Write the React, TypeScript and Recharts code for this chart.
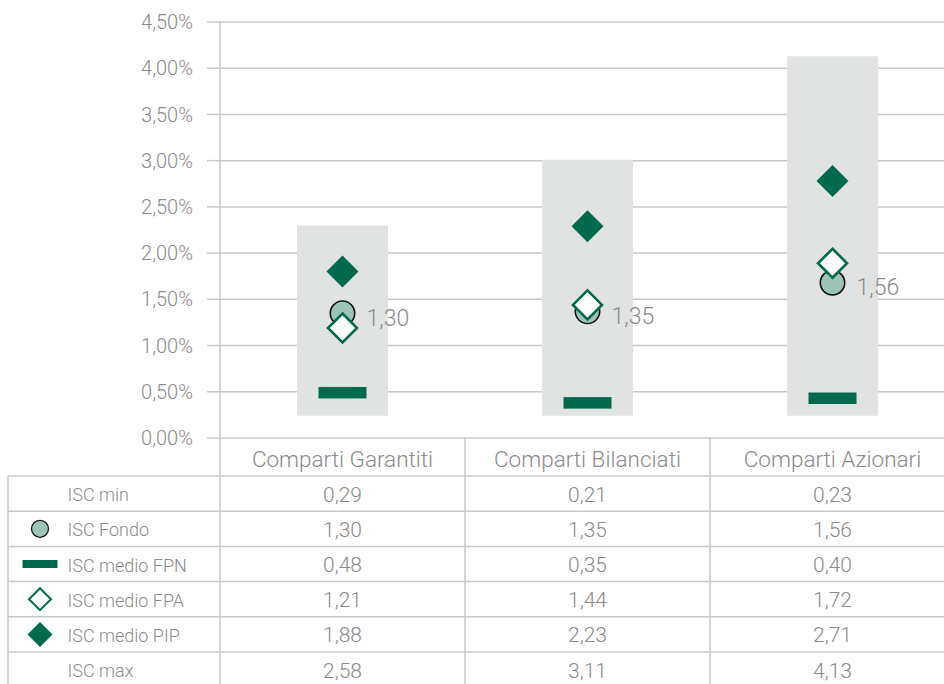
import React from 'react';
import { ComposedChart, Bar, Line, XAxis, YAxis, CartesianGrid } from 'recharts';

const categories = ['Comparti Garantiti', 'Comparti Bilanciati', 'Comparti Azionari'];
const yTicks = [0, 0.5, 1, 1.5, 2, 2.5, 3, 3.5, 4, 4.5];

// values as plotted in the chart area
const rangeMin = [0.24, 0.24, 0.24];
const rangeMax = [2.30, 3.01, 4.13];
const fondo = [1.35, 1.37, 1.68];
const medioFPN = [0.49, 0.38, 0.43];
const medioFPA = [1.19, 1.44, 1.89];
const medioPIP = [1.80, 2.29, 2.78];

// values printed in the table
const rowLabels = ['ISC min', 'ISC Fondo', 'ISC medio FPN', 'ISC medio FPA', 'ISC medio PIP', 'ISC max'];
const tabMin = [0.29, 0.21, 0.23];
const tabFondo = [1.30, 1.35, 1.56];
const tabFPN = [0.48, 0.35, 0.40];
const tabFPA = [1.21, 1.44, 1.72];
const tabPIP = [1.88, 2.23, 2.71];
const tabMax = [2.58, 3.11, 4.13];

const GREEN = '#006a4d';
const CIRCLE = '#9cc5b7';
const BOX = '#e1e3e2';
const LINE = '#c8c8c8';
const TEXT = '#8a8a8a';
const FONT = 'Roboto, "Open Sans", sans-serif';

const fmt = (v: number) => v.toFixed(2).replace('.', ',');

const data = categories.map((c, i) => ({
  name: c,
  box: [rangeMin[i], rangeMax[i]],
  fondo: fondo[i],
  fpn: medioFPN[i],
  fpa: medioFPA[i],
  pip: medioPIP[i],
}));

const tableCols = [tabMin, tabFondo, tabFPN, tabFPA, tabPIP, tabMax];

const diamond = (cx: number, cy: number, h: number) =>
  `M${cx},${cy - h} L${cx + h},${cy} L${cx},${cy + h} L${cx - h},${cy} Z`;

const LegendIcon = ({ row, cx, cy }: { row: number; cx: number; cy: number }) => {
  if (row === 1) return <circle cx={cx} cy={cy} r={8.5} fill={CIRCLE} stroke="#111" strokeWidth={1.3} />;
  if (row === 2) return <rect x={cx - 17.5} y={cy - 4} width={35} height={8} fill={GREEN} />;
  if (row === 3) return <path d={diamond(cx, cy, 11)} fill="#fff" stroke={GREEN} strokeWidth={2} />;
  if (row === 4) return <path d={diamond(cx, cy, 12.5)} fill={GREEN} />;
  return null;
};

const CategoryTick = (props: any) => {
  const { x, y, payload } = props;
  const i = props.index ?? payload.index ?? 0;
  const hb = payload && payload.offset ? payload.offset : 122.5;
  const left = x - hb;
  const right = x + hb;
  const isLast = i === categories.length - 1;
  const headerH = 38;
  const rowH = 35.2;
  const bottom = y + headerH + rowH * 6 + 20;
  const tableLeft = left - 212;
  const els: any[] = [];
  els.push(
    <text key="h" x={x} y={y + headerH / 2 + 2} textAnchor="middle" dominantBaseline="central"
      fill={TEXT} fontSize={22.5} fontFamily={FONT} fontWeight={300}>{categories[i]}</text>
  );
  els.push(<line key="vl" x1={left} x2={left} y1={y - 1} y2={bottom} stroke={LINE} strokeWidth={1.5} />);
  if (isLast) {
    els.push(<line key="vr" x1={right} x2={right} y1={y} y2={bottom} stroke={LINE} strokeWidth={1.5} />);
  }
  for (let r = 0; r < 6; r++) {
    const top = y + headerH + r * rowH;
    els.push(<line key={'hl' + r} x1={left} x2={isLast ? right + 30 : right} y1={top} y2={top} stroke={LINE} strokeWidth={1.5} />);
    els.push(
      <text key={'v' + r} x={x} y={top + rowH / 2 + 1} textAnchor="middle" dominantBaseline="central"
        fill={TEXT} fontSize={21} fontFamily={FONT} fontWeight={300}>{fmt(tableCols[r][i])}</text>
    );
    if (i === 0) {
      els.push(<line key={'lhl' + r} x1={tableLeft} x2={left} y1={top} y2={top} stroke={LINE} strokeWidth={1.5} />);
      els.push(
        <text key={'l' + r} x={tableLeft + 59.5} y={top + rowH / 2 + 1} textAnchor="start" dominantBaseline="central"
          fill={TEXT} fontSize={18} fontFamily={FONT} fontWeight={300}>{rowLabels[r]}</text>
      );
      els.push(<LegendIcon key={'ic' + r} row={r} cx={tableLeft + 32} cy={top + rowH / 2} />);
    }
  }
  if (i === 0) {
    els.push(<line key="tl" x1={tableLeft} x2={tableLeft} y1={y + headerH} y2={bottom} stroke={LINE} strokeWidth={1.5} />);
  }
  return <g>{els}</g>;
};

const FondoDot = (props: any) => {
  const { cx, cy, index } = props;
  if (cx == null || cy == null) return <g key={'fd' + index} />;
  return (
    <g key={'fd' + index}>
      <circle cx={cx} cy={cy} r={12.2} fill={CIRCLE} stroke="#111" strokeWidth={1.6} />
      <text x={cx + 24} y={cy + 5} dominantBaseline="central" fill={TEXT} fontSize={23}
        fontFamily={FONT} fontWeight={300}>{fmt(tabFondo[index])}</text>
    </g>
  );
};

const FPNDot = (props: any) => {
  const { cx, cy, index } = props;
  if (cx == null || cy == null) return <g key={'fn' + index} />;
  return <rect key={'fn' + index} x={cx - 24} y={cy - 5.75} width={48} height={11.5} fill={GREEN} />;
};

const FPADot = (props: any) => {
  const { cx, cy, index } = props;
  if (cx == null || cy == null) return <g key={'fa' + index} />;
  return <path key={'fa' + index} d={diamond(cx, cy, 14.5)} fill="#fff" stroke={GREEN} strokeWidth={2.6} />;
};

const PIPDot = (props: any) => {
  const { cx, cy, index } = props;
  if (cx == null || cy == null) return <g key={'fp' + index} />;
  return <path key={'fp' + index} d={diamond(cx, cy, 16)} fill={GREEN} />;
};

export default function App() {
  return (
    <div style={{ position: 'absolute', left: 0, top: 0, width: 944, height: 684, overflow: 'hidden', background: '#fff' }}>
      <ComposedChart width={960} height={684} data={data}
        margin={{ top: 22, right: 5, bottom: 0, left: 0 }}>
        <CartesianGrid horizontal vertical={false} stroke={LINE} strokeWidth={1.5} />
        <YAxis type="number" domain={[0, 4.5]} ticks={yTicks} width={220}
          tickFormatter={(v: number) => fmt(v) + '%'}
          tick={{ fill: TEXT, fontSize: 20, fontFamily: FONT, fontWeight: 300 }}
          tickSize={13} tickMargin={14}
          tickLine={{ stroke: LINE, strokeWidth: 1.5 }}
          axisLine={{ stroke: LINE, strokeWidth: 1.5 }} />
        <XAxis dataKey="name" type="category" height={246} tickSize={0} tickMargin={0}
          axisLine={false} tickLine={false} tick={<CategoryTick />} interval={0} />
        <Bar dataKey="box" fill={BOX} barSize={91} isAnimationActive={false} />
        <Line dataKey="fpn" stroke="none" dot={FPNDot} activeDot={false} isAnimationActive={false} />
        <Line dataKey="fondo" stroke="none" dot={FondoDot} activeDot={false} isAnimationActive={false} />
        <Line dataKey="fpa" stroke="none" dot={FPADot} activeDot={false} isAnimationActive={false} />
        <Line dataKey="pip" stroke="none" dot={PIPDot} activeDot={false} isAnimationActive={false} />
      </ComposedChart>
    </div>
  );
}
